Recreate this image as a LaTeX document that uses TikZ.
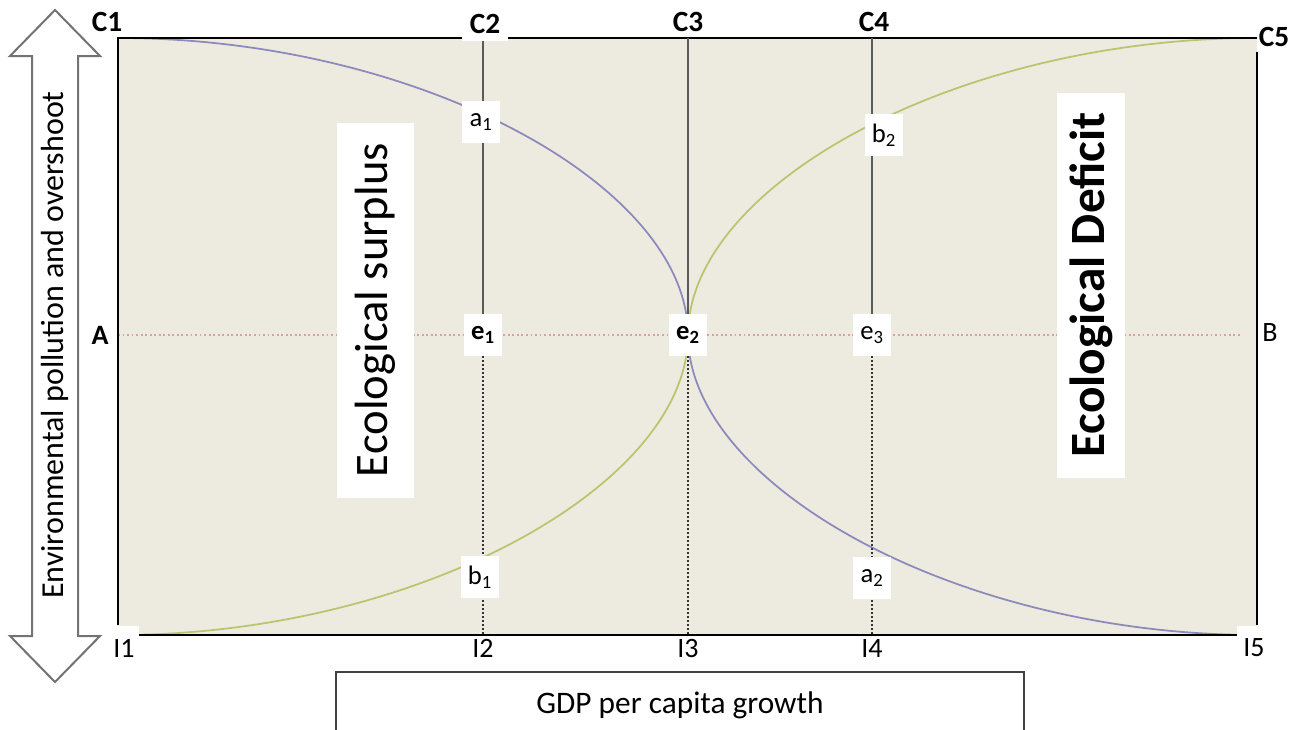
\documentclass[tikz,border=0pt]{standalone}
\usepackage{fontspec}
\setmainfont{Carlito}
\begin{document}
\begin{tikzpicture}[x=0.75pt,y=-0.75pt,
  fsz/.style={font=\fontsize{#1}{#1}\selectfont},
  toplbl/.style={font=\fontsize{22}{22}\selectfont\bfseries, inner sep=1pt},
  ptlbl/.style={fill=white, inner sep=0pt, minimum width=38*0.75pt, minimum height=42*0.75pt, font=\fontsize{20}{20}\selectfont},
  frame/.style={draw=black, line width=1.1pt},
  solidv/.style={draw=black!65, line width=0.9pt},
  dotv/.style={draw=black!80, line width=1pt, dotted},
  bluec/.style={draw=curveblue, line width=1.3pt},
  greenc/.style={draw=curvegreen, line width=1.3pt},
  reddot/.style={draw=redline, line width=1.4pt, dotted},
  arrowshape/.style={draw=black!55, line width=1.5pt, fill=white, line join=miter}
]
\definecolor{bg}{HTML}{EDEADF}
\definecolor{curveblue}{HTML}{8C89BC}
\definecolor{curvegreen}{HTML}{B7C66C}
\definecolor{redline}{HTML}{D9A39B}
\useasboundingbox (0,0) rectangle (1299,729);
\fill[white] (0,0) rectangle (1299,729);
% background panel
\fill[bg] (118,38) rectangle (1257,635);
% key coordinates
\coordinate (TL) at (118,38);
\coordinate (TR) at (1257,38);
\coordinate (BL) at (118,635);
\coordinate (BR) at (1257,635);
\coordinate (M) at (688,335);
\coordinate (c2t) at (483,38);
\coordinate (c3t) at (688,38);
\coordinate (c4t) at (872,38);
\coordinate (i2b) at (483,635);
\coordinate (i3b) at (688,635);
\coordinate (i4b) at (872,635);
\coordinate (Aend) at (118,335);
\coordinate (Bend) at (1240,335);
% red dotted line
\draw[reddot] (Aend) -- (Bend);
% curves
\draw[bluec] (TL) .. controls (418,38) and (688,185) .. (M) .. controls (688,485) and (957,635) .. (BR);
\draw[greenc] (BL) .. controls (418,635) and (688,485) .. (M) .. controls (688,185) and (957,38) .. (TR);
% frame
\draw[frame] (118,625) -- (TL) -- (TR);
\draw[frame] (1257,52) -- (1257,625);
\draw[frame] (137,635) -- (1240,635);
% e nodes
\node[ptlbl, font=\fontsize{20}{20}\selectfont\bfseries] (e1) at (483,335) {e\textsubscript{1}};
\node[ptlbl, font=\fontsize{20}{20}\selectfont\bfseries] (e2) at (688,335) {e\textsubscript{2}};
\node[ptlbl] (e3) at (872,335) {e\textsubscript{3}};
% vertical lines
\draw[solidv] (c2t) -- (e1.north);
\draw[dotv] (e1.south) -- (i2b);
\draw[solidv] (c3t) -- (e2.north);
\draw[dotv] (e2.south) -- (i3b);
\draw[solidv] (c4t) -- (e3.north);
\draw[dotv] (e3.south) -- (i4b);
% curve labels
\node[ptlbl] (a1) at (481,122) {a\textsubscript{1}};
\node[ptlbl] (b2) at (884,135) {b\textsubscript{2}};
\node[ptlbl] (b1) at (480,577) {b\textsubscript{1}};
\node[ptlbl] (a2) at (872,578) {a\textsubscript{2}};
% top labels
\node[toplbl] (C1) at (107,22) {C1};
\node[toplbl, fill=white, minimum width=46*0.75pt, minimum height=34*0.75pt] (C2) at (485,24) {C2};
\node[toplbl] (C3) at (688,22) {C3};
\node[toplbl] (C4) at (874,22) {C4};
\node[toplbl] (C5) at (1274,37) {C5};
% side labels
\node[font=\fontsize{21}{21}\selectfont\bfseries] (A) at (100,335) {A};
\node[fill=white, inner sep=2pt, minimum height=50*0.75pt, fsz=21] (B) at (1270,333) {B};
% bottom labels
\node[fill=white, fsz=21, inner sep=1pt, minimum width=30*0.75pt, minimum height=44*0.75pt] (I1) at (124,648) {I1};
\node[fill=white, fsz=21, inner sep=1pt, minimum width=36*0.75pt] (I2) at (483,648) {I2};
\node[fill=white, fsz=21, inner sep=1pt, minimum width=36*0.75pt] (I3) at (688,648) {I3};
\node[fill=white, fsz=21, inner sep=1pt, minimum width=36*0.75pt] (I4) at (872,648) {I4};
\node[fill=white, fsz=21, inner sep=1pt, minimum width=34*0.75pt, minimum height=44*0.75pt] (I5) at (1254,648) {I5};
% region labels
\node[fill=white, rotate=90, minimum width=375*0.75pt, minimum height=77*0.75pt, font=\fontsize{35}{35}\selectfont] (surplus) at (375,310) {Ecological surplus};
\node[fill=white, rotate=90, minimum width=385*0.75pt, minimum height=68*0.75pt, font=\fontsize{37}{37}\selectfont\bfseries] (deficit) at (1091,285) {Ecological Deficit};
% double arrow
\draw[arrowshape] (55,10) -- (100,56) -- (78,56) -- (78,636) -- (100,636) -- (55,682) -- (10,636) -- (32,636) -- (32,56) -- (10,56) -- cycle;
\node[rotate=90, fsz=24] (yaxis) at (55,345) {Environmental pollution and overshoot};
% x-axis box
\draw[draw=black!75, line width=1.3pt] (336,740) -- (336,672) -- (1024,672) -- (1024,740);
\node[fsz=23.5] (xaxis) at (680,705) {GDP per capita growth};
\end{tikzpicture}
\end{document}
